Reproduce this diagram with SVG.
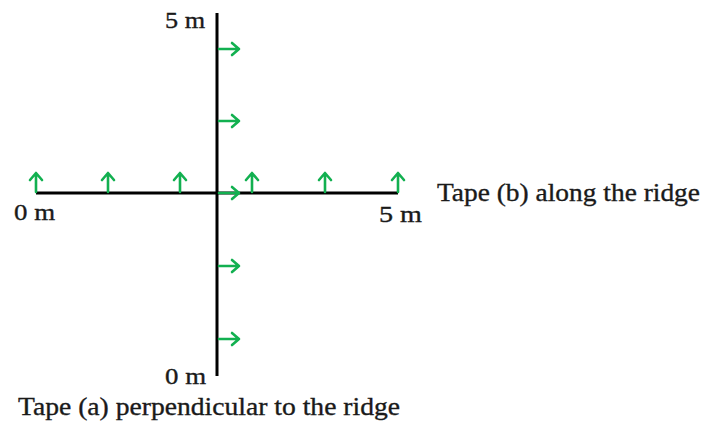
<svg xmlns="http://www.w3.org/2000/svg" width="705" height="423" viewBox="0 0 705 423">
<style>
.axis{stroke:#000;stroke-width:3;fill:none}
.arr{stroke:#12b050;stroke-width:2.6;fill:none;stroke-linecap:round;stroke-linejoin:round}
.t{font-family:"Liberation Serif","Times New Roman",serif;fill:#1a1a1a;stroke:#1a1a1a;stroke-width:0.35}
.lab{font-size:23px}
.cap{font-size:26px}
</style>
<defs>
<g id="up"><path class="arr" d="M0 0V-18M-6 -12L0 -19L6 -12"/></g>
<g id="rt"><path class="arr" d="M0 0H20M13 -6L20 0L13 6"/></g>
</defs>
<g id="connectors">
<line class="axis" x1="36" y1="193" x2="398" y2="193"/>
<line class="axis" x1="217" y1="13" x2="217" y2="376"/>
</g>
<g id="up-arrows">
<use href="#up" x="36" y="192"/>
<use href="#up" x="108" y="192"/>
<use href="#up" x="180" y="192"/>
<use href="#up" x="252" y="192"/>
<use href="#up" x="325" y="192"/>
<use href="#up" x="398" y="192"/>
</g>
<g id="right-arrows">
<use href="#rt" x="219" y="49"/>
<use href="#rt" x="219" y="121"/>
<use href="#rt" x="219" y="193"/>
<use href="#rt" x="219" y="266"/>
<use href="#rt" x="219" y="339"/>
</g>
<g id="labels">
<text class="t lab" x="165" y="28" textLength="40" lengthAdjust="spacingAndGlyphs">5 m</text>
<text class="t lab" x="14" y="220" textLength="41" lengthAdjust="spacingAndGlyphs">0 m</text>
<text class="t lab" x="379" y="222" textLength="43" lengthAdjust="spacingAndGlyphs">5 m</text>
<text class="t lab" x="165" y="384" textLength="41" lengthAdjust="spacingAndGlyphs">0 m</text>
<text class="t cap" x="437" y="201" textLength="263" lengthAdjust="spacingAndGlyphs">Tape (b) along the ridge</text>
<text class="t cap" x="18" y="415" textLength="382" lengthAdjust="spacingAndGlyphs">Tape (a) perpendicular to the ridge</text>
</g>
</svg>
